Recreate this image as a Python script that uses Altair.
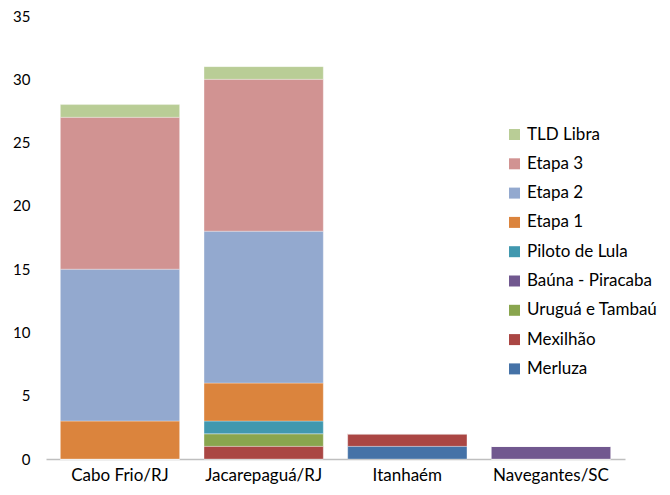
import altair as alt
import pandas as pd

locais = ["Cabo Frio/RJ", "Jacarepaguá/RJ", "Itanhaém", "Navegantes/SC"]
series = ["Merluza", "Mexilhão", "Uruguá e Tambaú", "Baúna - Piracaba", "Piloto de Lula",
          "Etapa 1", "Etapa 2", "Etapa 3", "TLD Libra"]
merluza = [0, 0, 1, 0]
mexilhao = [0, 1, 1, 0]
uruguа_tambau = [0, 1, 0, 0]
bauna = [0, 0, 0, 1]
piloto = [0, 1, 0, 0]
etapa1 = [3, 3, 0, 0]
etapa2 = [12, 12, 0, 0]
etapa3 = [12, 12, 0, 0]
tld = [1, 1, 0, 0]
colors = ["#4572A7", "#AA4643", "#89A54E", "#71588F", "#4198AF",
          "#DB843D", "#93A9CF", "#D19392", "#B9CD96"]

values = [merluza, mexilhao, uruguа_tambau, bauna, piloto, etapa1, etapa2, etapa3, tld]
rows = []
for i, (s, vals) in enumerate(zip(series, values)):
    for loc, v in zip(locais, vals):
        rows.append({"local": loc, "serie": s, "valor": v, "ordem": i})
df = pd.DataFrame(rows)

FONT = "Lato"
chart = alt.Chart(df).mark_bar(stroke="white", strokeWidth=0.5, strokeOpacity=0.6).encode(
    x=alt.X("local:N", sort=locais, title=None,
            scale=alt.Scale(paddingInner=0.17, paddingOuter=0.1),
            axis=alt.Axis(labelAngle=0, domain=True, domainColor="#bfbfbf", domainWidth=1.5,
                          ticks=False, labelPadding=8, labelFontSize=17, labelFont=FONT,
                          labelColor="#000000")),
    y=alt.Y("valor:Q", stack="zero", title=None,
            scale=alt.Scale(domain=[0, 35], nice=False),
            axis=alt.Axis(values=[0, 5, 10, 15, 20, 25, 30, 35], grid=False, domain=False,
                          ticks=False, labelPadding=16, labelFontSize=15, labelFont=FONT,
                          labelColor="#000000")),
    color=alt.Color("serie:N", title=None,
                    scale=alt.Scale(domain=series[::-1], range=colors[::-1]),
                    legend=alt.Legend(orient="none", legendX=460, legendY=110,
                                      symbolType="square", symbolSize=121, symbolStrokeWidth=0,
                                      labelFontSize=17, labelFont=FONT, labelColor="#000000",
                                      labelOffset=4, rowPadding=11.3, symbolOpacity=1,
                                      labelLimit=300)),
    order=alt.Order("ordem:Q", sort="ascending"),
).properties(
    width=579, height=443,
    background="white",
    autosize=alt.AutoSizeParams(type="none"),
    padding={"left": 38, "top": 8, "right": 36, "bottom": 28},
).configure_view(strokeWidth=0, stroke="transparent")

chart.save("out.html", embed_options={"renderer": "svg", "actions": False})
